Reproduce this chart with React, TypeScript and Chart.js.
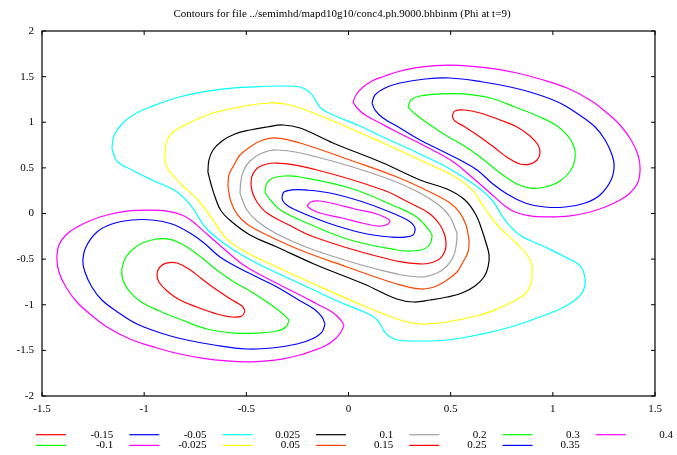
import React, { useEffect, useRef } from "react";
import { Chart, registerables } from "chart.js";
Chart.register(...registerables);

const TITLE = "Contours for file ../semimhd/mapd10g10/conc4.ph.9000.bhbinm (Phi at t=9)";
const X_TICKS = [-1.5, -1, -0.5, 0, 0.5, 1, 1.5];
const Y_TICKS = [-2, -1.5, -1, -0.5, 0, 0.5, 1, 1.5, 2];
const LEVEL_LABELS = ["-0.15", "-0.1", "-0.05", "-0.025", "0.025", "0.05", "0.1", "0.15", "0.2", "0.25", "0.3", "0.35", "0.4"];
const LEVEL_COLORS = ["#ff0000", "#00ff00", "#0000ff", "#ff00ff", "#00ffff", "#ffff00", "#000000", "#ff4500", "#a0a0a0", "#ff0000", "#00ff00", "#0000ff", "#ff00ff"];

// ---- negative lobes (upper-right "A", lower-left "B") ----
const lobeM015A = [[0.507,1.068],[0.521,1.123],[0.570,1.134],[0.644,1.101],[0.742,1.025],[0.825,0.948],[0.888,0.849],[0.928,0.751],[0.937,0.663],[0.923,0.586],[0.888,0.542],[0.839,0.542],[0.781,0.608],[0.717,0.718],[0.644,0.838],[0.570,0.948],[0.521,1.014]];
const lobeM015B = [[-0.507,-1.068],[-0.521,-1.123],[-0.570,-1.134],[-0.644,-1.101],[-0.742,-1.025],[-0.825,-0.948],[-0.888,-0.849],[-0.928,-0.751],[-0.937,-0.663],[-0.923,-0.586],[-0.888,-0.542],[-0.839,-0.542],[-0.781,-0.608],[-0.717,-0.718],[-0.644,-0.838],[-0.570,-0.948],[-0.521,-1.014]];

const lobeM01A = [[0.291,1.167],[0.306,1.244],[0.350,1.288],[0.448,1.310],[0.560,1.310],[0.693,1.266],[0.815,1.167],[0.937,1.058],[1.021,0.959],[1.074,0.849],[1.104,0.729],[1.109,0.608],[1.089,0.477],[1.035,0.356],[0.962,0.290],[0.888,0.279],[0.825,0.323],[0.742,0.444],[0.644,0.619],[0.560,0.751],[0.482,0.849],[0.399,0.970],[0.326,1.090]];
const lobeM01B = [[-0.291,-1.167],[-0.306,-1.244],[-0.350,-1.288],[-0.448,-1.310],[-0.560,-1.310],[-0.693,-1.266],[-0.815,-1.167],[-0.937,-1.058],[-1.021,-0.959],[-1.074,-0.849],[-1.104,-0.729],[-1.109,-0.608],[-1.089,-0.477],[-1.035,-0.356],[-0.962,-0.290],[-0.888,-0.279],[-0.825,-0.323],[-0.742,-0.444],[-0.644,-0.619],[-0.560,-0.751],[-0.482,-0.849],[-0.399,-0.970],[-0.326,-1.090]];

const lobeM005A = [[0.115,1.211],[0.130,1.299],[0.179,1.375],[0.252,1.430],[0.374,1.474],[0.497,1.485],[0.658,1.441],[0.791,1.386],[0.903,1.321],[1.035,1.211],[1.123,1.090],[1.207,0.948],[1.256,0.805],[1.290,0.641],[1.300,0.521],[1.285,0.367],[1.231,0.203],[1.158,0.115],[1.060,0.071],[0.962,0.071],[0.864,0.115],[0.776,0.214],[0.707,0.323],[0.629,0.477],[0.546,0.586],[0.448,0.696],[0.350,0.805],[0.252,0.937],[0.169,1.047],[0.130,1.134]];
const lobeM005B = [[-0.115,-1.211],[-0.130,-1.299],[-0.179,-1.375],[-0.252,-1.430],[-0.374,-1.474],[-0.497,-1.485],[-0.658,-1.441],[-0.791,-1.386],[-0.903,-1.321],[-1.035,-1.211],[-1.123,-1.090],[-1.207,-0.948],[-1.256,-0.805],[-1.290,-0.641],[-1.300,-0.521],[-1.285,-0.367],[-1.231,-0.203],[-1.158,-0.115],[-1.060,-0.071],[-0.962,-0.071],[-0.864,-0.115],[-0.776,-0.214],[-0.707,-0.323],[-0.629,-0.477],[-0.546,-0.586],[-0.448,-0.696],[-0.350,-0.805],[-0.252,-0.937],[-0.169,-1.047],[-0.130,-1.134]];

const lobeM0025A = [[0.022,1.222],[0.037,1.299],[0.066,1.375],[0.115,1.452],[0.179,1.507],[0.237,1.551],[0.326,1.595],[0.399,1.616],[0.497,1.627],[0.595,1.616],[0.717,1.584],[0.825,1.540],[0.937,1.474],[1.070,1.375],[1.182,1.244],[1.260,1.112],[1.329,0.970],[1.383,0.805],[1.417,0.641],[1.427,0.499],[1.417,0.345],[1.378,0.225],[1.329,0.148],[1.256,0.071],[1.182,0.016],[1.084,-0.027],[0.986,-0.038],[0.888,-0.027],[0.815,0.016],[0.766,0.082],[0.693,0.225],[0.609,0.389],[0.521,0.553],[0.448,0.652],[0.316,0.805],[0.228,0.904],[0.154,0.992],[0.081,1.079],[0.042,1.156]];
const lobeM0025B = [[-0.022,-1.222],[-0.037,-1.299],[-0.066,-1.375],[-0.115,-1.452],[-0.179,-1.507],[-0.237,-1.551],[-0.326,-1.595],[-0.399,-1.616],[-0.497,-1.627],[-0.595,-1.616],[-0.717,-1.584],[-0.825,-1.540],[-0.937,-1.474],[-1.070,-1.375],[-1.182,-1.244],[-1.260,-1.112],[-1.329,-0.970],[-1.383,-0.805],[-1.417,-0.641],[-1.427,-0.499],[-1.417,-0.345],[-1.378,-0.225],[-1.329,-0.148],[-1.256,-0.071],[-1.182,-0.016],[-1.084,0.027],[-0.986,0.038],[-0.888,0.027],[-0.815,-0.016],[-0.766,-0.082],[-0.693,-0.225],[-0.609,-0.389],[-0.521,-0.553],[-0.448,-0.652],[-0.316,-0.805],[-0.228,-0.904],[-0.154,-0.992],[-0.081,-1.079],[-0.042,-1.156]];

// ---- positive central loops ----
const loopP0025 = [[-1.158,0.718],[-1.148,0.849],[-1.109,0.981],[-1.045,1.090],[-0.972,1.167],[-0.810,1.288],[-0.653,1.353],[-0.482,1.386],[-0.321,1.397],[-0.237,1.386],[-0.198,1.342],[-0.174,1.288],[-0.154,1.211],[-0.130,1.145],[-0.076,1.079],[0.056,0.959],[0.169,0.838],[0.350,0.652],[0.497,0.488],[0.619,0.312],[0.702,0.148],[0.766,-0.071],[0.839,-0.236],[0.962,-0.367],[1.060,-0.477],[1.133,-0.575],
  [1.158,-0.718],[1.148,-0.849],[1.109,-0.948],[1.035,-1.047],[0.962,-1.112],[0.810,-1.233],[0.653,-1.321],[0.482,-1.386],[0.321,-1.397],[0.237,-1.386],[0.198,-1.342],[0.174,-1.288],[0.154,-1.211],[0.130,-1.145],[0.076,-1.079],[-0.056,-0.959],[-0.169,-0.838],[-0.350,-0.652],[-0.497,-0.488],[-0.619,-0.312],[-0.702,-0.148],[-0.766,0.071],[-0.839,0.236],[-0.962,0.367],[-1.060,0.477],[-1.133,0.575]];

const loopP005 = [[-0.898,0.641],[-0.893,0.773],[-0.864,0.882],[-0.810,0.959],[-0.727,1.047],[-0.644,1.112],[-0.482,1.189],[-0.384,1.211],[-0.311,1.200],[-0.237,1.156],[-0.076,1.014],[0.169,0.773],[0.350,0.586],[0.521,0.400],[0.605,0.258],[0.663,0.071],[0.732,-0.137],[0.815,-0.312],[0.874,-0.455],[0.898,-0.564],
  [0.898,-0.641],[0.893,-0.773],[0.864,-0.882],[0.810,-0.959],[0.727,-1.047],[0.644,-1.112],[0.482,-1.189],[0.384,-1.211],[0.311,-1.200],[0.237,-1.156],[0.076,-1.014],[-0.169,-0.773],[-0.350,-0.586],[-0.521,-0.400],[-0.605,-0.258],[-0.663,-0.071],[-0.732,0.137],[-0.815,0.312],[-0.874,0.455],[-0.898,0.564]];

const loopP01 = [[-0.688,0.455],[-0.683,0.586],[-0.663,0.696],[-0.619,0.795],[-0.556,0.871],[-0.482,0.915],[-0.399,0.948],[-0.321,0.970],[-0.237,0.937],[-0.076,0.773],[0.169,0.553],[0.350,0.367],[0.482,0.268],[0.570,0.148],[0.624,-0.016],[0.653,-0.181],[0.673,-0.323],
  [0.688,-0.455],[0.683,-0.586],[0.663,-0.696],[0.619,-0.795],[0.556,-0.871],[0.482,-0.915],[0.399,-0.948],[0.321,-0.970],[0.237,-0.937],[0.076,-0.773],[-0.169,-0.553],[-0.350,-0.367],[-0.482,-0.235],[-0.570,-0.093],[-0.624,0.030],[-0.653,0.181],[-0.673,0.323]];

const loopP015 = [[-0.590,0.301],[-0.585,0.422],[-0.560,0.532],[-0.531,0.641],[-0.482,0.729],[-0.419,0.805],[-0.350,0.827],[-0.237,0.773],[0.007,0.586],[0.237,0.400],[0.399,0.236],[0.497,0.115],[0.546,0.005],[0.575,-0.126],[0.585,-0.225],
  [0.590,-0.301],[0.585,-0.422],[0.560,-0.532],[0.531,-0.641],[0.482,-0.729],[0.419,-0.805],[0.350,-0.827],[0.237,-0.773],[-0.007,-0.586],[-0.237,-0.400],[-0.399,-0.236],[-0.497,-0.115],[-0.546,-0.005],[-0.575,0.126],[-0.585,0.225]];

const loopP02 = [[-0.531,0.225],[-0.526,0.367],[-0.512,0.477],[-0.482,0.575],[-0.433,0.652],[-0.350,0.696],[-0.154,0.619],[0.169,0.400],[0.350,0.225],[0.448,0.082],[0.497,-0.038],[0.521,-0.159],
  [0.531,-0.225],[0.526,-0.367],[0.512,-0.477],[0.482,-0.575],[0.433,-0.652],[0.350,-0.696],[0.154,-0.619],[-0.169,-0.400],[-0.350,-0.225],[-0.448,-0.082],[-0.497,0.038],[-0.521,0.159]];

const loopP025 = [[-0.477,0.312],[-0.472,0.411],[-0.438,0.510],[-0.350,0.553],[-0.154,0.477],[0.169,0.258],[0.301,0.115],[0.399,-0.005],[0.448,-0.126],[0.470,-0.230],
  [0.477,-0.312],[0.472,-0.411],[0.438,-0.510],[0.350,-0.553],[0.154,-0.477],[-0.169,-0.258],[-0.301,-0.115],[-0.399,0.005],[-0.448,0.126],[-0.470,0.230]];

const loopP03 = [[-0.409,0.247],[-0.399,0.334],[-0.370,0.389],[-0.311,0.411],[-0.237,0.400],[0.007,0.279],[0.237,0.071],[0.326,-0.027],[0.374,-0.126],[0.404,-0.214],
  [0.409,-0.247],[0.399,-0.334],[0.370,-0.389],[0.311,-0.411],[0.237,-0.400],[-0.007,-0.279],[-0.237,-0.071],[-0.326,0.027],[-0.374,0.126],[-0.404,0.214]];

const loopP035 = [[-0.326,0.181],[-0.316,0.236],[-0.277,0.258],[-0.213,0.258],[-0.091,0.225],[0.071,0.126],[0.237,-0.016],[0.296,-0.082],[0.321,-0.137],
  [0.326,-0.181],[0.316,-0.236],[0.277,-0.258],[0.213,-0.258],[0.091,-0.225],[-0.071,-0.126],[-0.237,0.016],[-0.296,0.082],[-0.321,0.137]];

const loopP04 = [[-0.203,0.082],[-0.184,0.126],[-0.140,0.137],[-0.066,0.104],[0.032,0.049],[0.140,-0.005],[0.184,-0.049],
  [0.203,-0.082],[0.184,-0.126],[0.140,-0.137],[0.066,-0.104],[-0.032,-0.049],[-0.140,0.005],[-0.184,0.049]];

const LEVEL_LOOPS = [
  [lobeM015A, lobeM015B],
  [lobeM01A, lobeM01B],
  [lobeM005A, lobeM005B],
  [lobeM0025A, lobeM0025B],
  [loopP0025],
  [loopP005],
  [loopP01],
  [loopP015],
  [loopP02],
  [loopP025],
  [loopP03],
  [loopP035],
  [loopP04],
];

const FONT = "'Liberation Serif', 'DejaVu Serif', serif";

const closeLoop = (loop: number[][]) =>
  [...loop, loop[0]].map(([x, y]) => ({ x, y }));

const gnuplotDecor = {
  id: "gnuplotDecor",
  afterDraw(chart: any) {
    const { ctx, chartArea, scales } = chart;
    const { left, right, top, bottom } = chartArea;
    ctx.save();
    // frame
    ctx.strokeStyle = "#000";
    ctx.lineWidth = 1.2;
    ctx.strokeRect(left, top, right - left, bottom - top);
    // inward ticks, mirrored
    const tl = 4;
    ctx.lineWidth = 1;
    ctx.beginPath();
    for (const v of X_TICKS) {
      const px = scales.x.getPixelForValue(v);
      ctx.moveTo(px, bottom);
      ctx.lineTo(px, bottom - tl);
      ctx.moveTo(px, top);
      ctx.lineTo(px, top + tl);
    }
    for (const v of Y_TICKS) {
      const py = scales.y.getPixelForValue(v);
      ctx.moveTo(left, py);
      ctx.lineTo(left + tl, py);
      ctx.moveTo(right, py);
      ctx.lineTo(right - tl, py);
    }
    ctx.stroke();
    // title
    ctx.fillStyle = "#000";
    ctx.font = `11px ${FONT}`;
    ctx.textAlign = "center";
    ctx.textBaseline = "middle";
    ctx.fillText(TITLE, 342, 14);
    // legend (column-major, two rows)
    ctx.textAlign = "right";
    LEVEL_LABELS.forEach((lab, i) => {
      const col = Math.floor(i / 2);
      const row = i % 2;
      const x0 = 36 + col * 93.3;
      const y = 434.7 + row * 10.7;
      ctx.strokeStyle = LEVEL_COLORS[i];
      ctx.lineWidth = 1.2;
      ctx.beginPath();
      ctx.moveTo(x0, y);
      ctx.lineTo(x0 + 30, y);
      ctx.stroke();
      ctx.fillStyle = "#000";
      ctx.fillText(lab, x0 + 77.3, y);
    });
    ctx.restore();
  },
};

export default function App() {
  const ref = useRef<HTMLCanvasElement | null>(null);
  useEffect(() => {
    document.body.style.margin = "0";
    const datasets: any[] = [];
    LEVEL_LOOPS.forEach((loops, i) => {
      loops.forEach((loop) => {
        datasets.push({
          label: LEVEL_LABELS[i],
          data: closeLoop(loop),
          borderColor: LEVEL_COLORS[i],
          backgroundColor: LEVEL_COLORS[i],
          borderWidth: 1.2,
          pointRadius: 0,
          showLine: true,
          fill: false,
          tension: 0.4,
        });
      });
    });
    const chart = new Chart(ref.current as HTMLCanvasElement, {
      type: "scatter",
      data: { datasets },
      options: {
        animation: false,
        responsive: false,
        devicePixelRatio: 1,
        layout: { padding: { left: 0, right: 22, top: 31, bottom: 0 } },
        plugins: {
          legend: { display: false },
          title: { display: false },
          tooltip: { enabled: false },
        },
        scales: {
          x: {
            type: "linear",
            min: -1.5,
            max: 1.5,
            grid: { display: false, drawTicks: false },
            border: { display: false },
            afterBuildTicks: (s: any) => {
              s.ticks = X_TICKS.map((v) => ({ value: v }));
            },
            afterFit: (s: any) => {
              s.height = 59;
            },
            ticks: {
              color: "#000",
              padding: 7,
              maxRotation: 0,
              autoSkip: false,
              font: { family: FONT, size: 11 },
              callback: (v: any) => String(v),
            },
          },
          y: {
            type: "linear",
            min: -2,
            max: 2,
            grid: { display: false, drawTicks: false },
            border: { display: false },
            afterBuildTicks: (s: any) => {
              s.ticks = Y_TICKS.map((v) => ({ value: v }));
            },
            afterFit: (s: any) => {
              s.width = 42;
            },
            ticks: {
              color: "#000",
              padding: 8,
              autoSkip: false,
              font: { family: FONT, size: 11 },
              callback: (v: any) => String(v),
            },
          },
        },
      },
      plugins: [gnuplotDecor],
    });
    return () => chart.destroy();
  }, []);
  return (
    <div style={{ position: "absolute", left: 0, top: 0, width: 677, height: 455, background: "#fff" }}>
      <canvas ref={ref} width={677} height={455} style={{ width: 677, height: 455, display: "block" }} />
    </div>
  );
}
